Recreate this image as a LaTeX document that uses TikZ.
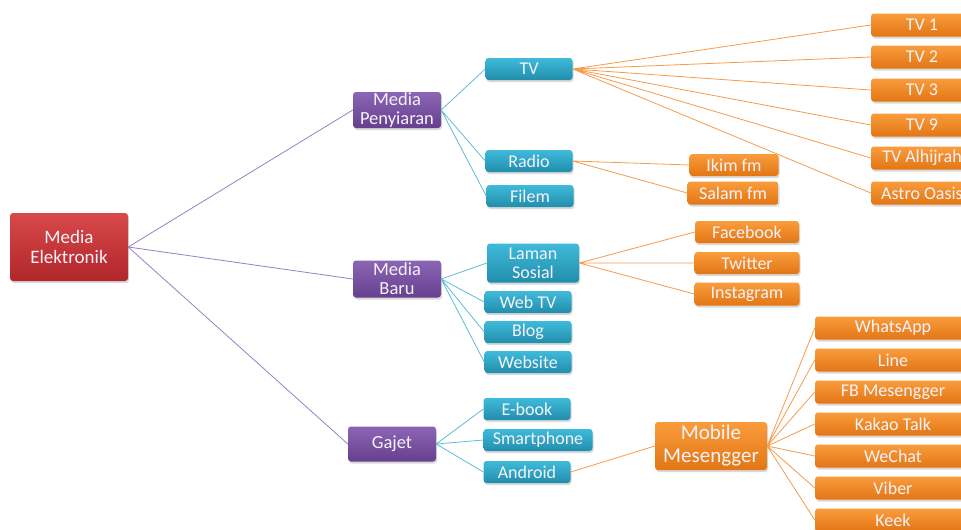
\documentclass[tikz,border=0pt]{standalone}
\usepackage{fontspec}
\setmainfont{Carlito}
\usetikzlibrary{shadows}

\definecolor{rtop}{HTML}{D8494B}
\definecolor{rbot}{HTML}{B0262A}
\definecolor{ptop}{HTML}{8C66B5}
\definecolor{pbot}{HTML}{66408E}
\definecolor{btop}{HTML}{3FBADA}
\definecolor{bbot}{HTML}{218EAB}
\definecolor{otop}{HTML}{FA9C3C}
\definecolor{obot}{HTML}{E27614}
\definecolor{pline}{HTML}{9483C2}
\definecolor{bline}{HTML}{5CBDD5}
\definecolor{oline}{HTML}{F59B4C}
\definecolor{txt}{HTML}{F6F2FA}

\begin{document}
\begin{tikzpicture}[x=1pt,y=-1pt]
        \tikzstyle{box}=[rounded corners=3pt,inner sep=0pt,align=center,text=txt,
            drop shadow={opacity=0.3,shadow xshift=1pt,shadow yshift=-2pt}]
        \tikzstyle{rootbox}=[box,top color=rtop,bottom color=rbot,minimum width=118pt,minimum height=68pt,font=\fontsize{19}{20}\selectfont]
        \tikzstyle{purplebox}=[box,top color=ptop,bottom color=pbot,minimum width=88pt,minimum height=36pt,font=\fontsize{18.5}{19}\selectfont]
        \tikzstyle{bluebox}=[box,top color=btop,bottom color=bbot,minimum width=87pt,minimum height=22pt,font=\fontsize{18}{19}\selectfont]
        \tikzstyle{orangebox}=[box,top color=otop,bottom color=obot,minimum height=23pt,font=\fontsize{18}{19}\selectfont]
        \tikzstyle{link}=[line width=0.8pt]
        \useasboundingbox (0,0) rectangle (961,530);

            \node[rootbox] (a) at (69,247) {Media\\Elektronik};

            \node[purplebox] (b) at (397,110) {Media\\Penyiaran};
            \node[purplebox,minimum height=37pt] (c) at (397,279) {Media\\Baru};
            \node[purplebox,minimum height=35pt] (d) at (392,444) {Gajet};

            \node[bluebox] (e) at (529,69) {TV};
            \node[bluebox] (f) at (529,161) {Radio};
            \node[bluebox] (g) at (530,196) {Filem};
            \node[bluebox,minimum width=92pt,minimum height=39pt] (h) at (533,263) {Laman\\Sosial};
            \node[bluebox] (i) at (528,302) {Web TV};
            \node[bluebox] (j) at (528,332) {Blog};
            \node[bluebox] (k) at (528,362) {Website};
            \node[bluebox] (l) at (527,409) {E-book};
            \node[bluebox,minimum width=109pt] (m) at (538,440) {Smartphone};
            \node[bluebox] (n) at (527,472) {Android};

            \node[orangebox,minimum width=102pt] (o1) at (922,25) {TV 1};
            \node[orangebox,minimum width=102pt] (o2) at (922,57) {TV 2};
            \node[orangebox,minimum width=102pt] (o3) at (922,90) {TV 3};
            \node[orangebox,minimum width=102pt] (o4) at (922,125) {TV 9};
            \node[orangebox,minimum width=102pt] (o5) at (922,158) {TV Alhijrah};
            \node[orangebox,minimum width=102pt] (o6) at (922,193) {Astro Oasis};

            \node[orangebox,minimum width=89pt,minimum height=22pt] (p1) at (734,165) {Ikim fm};
            \node[orangebox,minimum width=91pt] (p2) at (733,193) {Salam fm};

            \node[orangebox,minimum width=104pt,minimum height=22pt] (q1) at (747,232) {Facebook};
            \node[orangebox,minimum width=105pt,minimum height=22pt] (q2) at (747,263) {Twitter};
            \node[orangebox,minimum width=105pt] (q3) at (747,294) {Instagram};

            \node[orangebox,minimum width=112pt,minimum height=48pt,font=\fontsize{21}{23}\selectfont] (r) at (711,446) {Mobile\\Mesengger};

            \node[orangebox,minimum width=156pt] (s1) at (893,328) {WhatsApp};
            \node[orangebox,minimum width=156pt] (s2) at (893,360) {Line};
            \node[orangebox,minimum width=156pt] (s3) at (893,392) {FB Mesengger};
            \node[orangebox,minimum width=156pt] (s4) at (893,424) {Kakao Talk};
            \node[orangebox,minimum width=156pt] (s5) at (893,456) {WeChat};
            \node[orangebox,minimum width=156pt] (s6) at (893,488) {Viber};
            \node[orangebox,minimum width=156pt] (s7) at (893,520) {Keek};

            \draw[link,pline] (a.east) -- (b.west)
            (a.east) -- (c.west)
            (a.east) -- (d.west)
            ;
            \draw[link,bline] (b.east) -- (e.west)
            (b.east) -- (f.west)
            (b.east) -- (g.west)
            (c.east) -- (h.west)
            (c.east) -- (i.west)
            (c.east) -- (j.west)
            (c.east) -- (k.west)
            (d.east) -- (l.west)
            (d.east) -- (m.west)
            (d.east) -- (n.west)
            ;
            \draw[link,oline] (e.east) -- (o1.west)
            (e.east) -- (o2.west)
            (e.east) -- (o3.west)
            (e.east) -- (o4.west)
            (e.east) -- (o5.west)
            (e.east) -- (o6.west)
            (f.east) -- (p1.west)
            (f.east) -- (p2.west)
            (h.east) -- (q1.west)
            (h.east) -- (q2.west)
            (h.east) -- (q3.west)
            (n.east) -- (r.west)
            (r.east) -- (s1.west)
            (r.east) -- (s2.west)
            (r.east) -- (s3.west)
            (r.east) -- (s4.west)
            (r.east) -- (s5.west)
            (r.east) -- (s6.west)
            (r.east) -- (s7.west)
            ;
        \end{tikzpicture}
\end{document}
